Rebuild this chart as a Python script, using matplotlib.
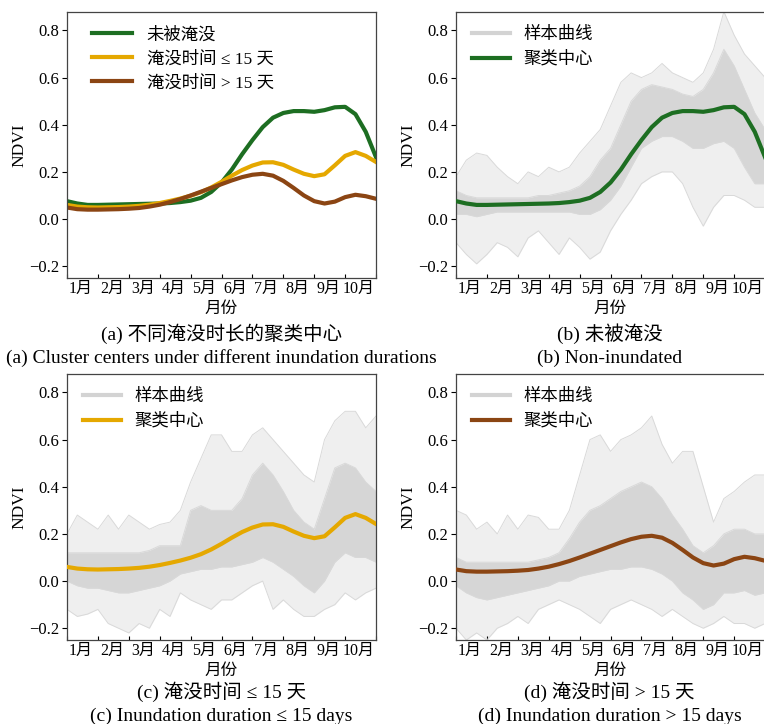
import numpy as np
import matplotlib.pyplot as plt
from matplotlib.lines import Line2D

FONT = ['Liberation Serif', 'Noto Sans CJK SC']
plt.rcParams['font.family'] = FONT
plt.rcParams['axes.unicode_minus'] = True

# time axis: months since 1 Jan, sampled every third of a month (dekads)
t = np.linspace(0, 10, 31)
months = ['1月', '2月', '3月', '4月', '5月', '6月', '7月', '8月', '9月', '10月']

# cluster centre NDVI curves
center_none = [0.076, 0.066, 0.060, 0.060, 0.061, 0.062, 0.063, 0.064, 0.065, 0.066,
               0.068, 0.072, 0.078, 0.090, 0.115, 0.155, 0.210, 0.275, 0.335, 0.390,
               0.430, 0.450, 0.458, 0.458, 0.455, 0.462, 0.474, 0.476, 0.445, 0.370, 0.262]
center_short = [0.060, 0.053, 0.050, 0.049, 0.050, 0.051, 0.053, 0.056, 0.061, 0.068,
                0.077, 0.087, 0.099, 0.114, 0.134, 0.158, 0.184, 0.208, 0.227, 0.240,
                0.241, 0.230, 0.210, 0.192, 0.182, 0.190, 0.228, 0.268, 0.284, 0.268, 0.242]
center_long = [0.049, 0.042, 0.040, 0.040, 0.041, 0.042, 0.044, 0.047, 0.053, 0.061,
               0.072, 0.085, 0.100, 0.116, 0.132, 0.148, 0.164, 0.178, 0.188, 0.192,
               0.184, 0.162, 0.132, 0.100, 0.076, 0.066, 0.074, 0.093, 0.103, 0.097, 0.086]

# spread of the sample curves: outer low, core low, core high, outer high
spread_none = [
    [-0.10, -0.15, -0.19, -0.15, -0.10, -0.12, -0.16, -0.08, -0.05, -0.10, -0.15, -0.08, -0.12, -0.17, -0.14, -0.05,
     0.02, 0.08, 0.15, 0.18, 0.20, 0.20, 0.15, 0.05, -0.03, 0.05, 0.10, 0.10, 0.08, 0.05, 0.05],
    [0.02, 0.02, 0.01, 0.02, 0.03, 0.03, 0.03, 0.03, 0.03, 0.03, 0.03, 0.03, 0.02, 0.02, 0.04, 0.08,
     0.14, 0.22, 0.30, 0.33, 0.35, 0.35, 0.33, 0.30, 0.30, 0.32, 0.33, 0.30, 0.22, 0.15, 0.15],
    [0.12, 0.10, 0.09, 0.09, 0.09, 0.09, 0.09, 0.09, 0.10, 0.10, 0.11, 0.12, 0.14, 0.18, 0.25, 0.30,
     0.40, 0.50, 0.55, 0.57, 0.56, 0.55, 0.53, 0.52, 0.55, 0.62, 0.72, 0.65, 0.55, 0.45, 0.38],
    [0.18, 0.25, 0.28, 0.27, 0.22, 0.18, 0.15, 0.20, 0.18, 0.22, 0.20, 0.22, 0.28, 0.33, 0.38, 0.48,
     0.58, 0.62, 0.60, 0.62, 0.66, 0.62, 0.60, 0.58, 0.62, 0.72, 0.88, 0.78, 0.70, 0.65, 0.60],
]
spread_short = [
    [-0.12, -0.15, -0.14, -0.12, -0.18, -0.20, -0.22, -0.18, -0.20, -0.12, -0.15, -0.05, -0.08, -0.10, -0.12, -0.08,
     -0.08, -0.05, -0.02, 0.00, -0.12, -0.08, -0.12, -0.15, -0.15, -0.12, -0.10, -0.05, -0.08, -0.05, -0.03],
    [0.00, -0.02, -0.03, -0.03, -0.04, -0.05, -0.05, -0.04, -0.03, -0.02, 0.00, 0.03, 0.04, 0.05, 0.05, 0.06,
     0.06, 0.07, 0.08, 0.10, 0.08, 0.05, 0.02, -0.02, -0.05, 0.00, 0.08, 0.12, 0.10, 0.10, 0.08],
    [0.12, 0.12, 0.12, 0.12, 0.12, 0.12, 0.12, 0.12, 0.13, 0.15, 0.15, 0.15, 0.30, 0.32, 0.30, 0.30,
     0.30, 0.35, 0.45, 0.50, 0.45, 0.38, 0.30, 0.25, 0.22, 0.35, 0.48, 0.50, 0.48, 0.42, 0.38],
    [0.20, 0.28, 0.25, 0.22, 0.28, 0.22, 0.28, 0.25, 0.22, 0.24, 0.25, 0.30, 0.42, 0.52, 0.62, 0.62,
     0.55, 0.55, 0.62, 0.65, 0.60, 0.55, 0.50, 0.45, 0.42, 0.60, 0.68, 0.72, 0.72, 0.65, 0.70],
]
spread_long = [
    [-0.20, -0.25, -0.22, -0.25, -0.20, -0.18, -0.15, -0.18, -0.12, -0.10, -0.08, -0.10, -0.12, -0.15, -0.18, -0.12,
     -0.10, -0.08, -0.10, -0.12, -0.15, -0.12, -0.15, -0.18, -0.20, -0.18, -0.15, -0.18, -0.18, -0.20, -0.18],
    [-0.02, -0.05, -0.07, -0.08, -0.07, -0.06, -0.05, -0.04, -0.03, -0.02, 0.00, 0.00, 0.02, 0.03, 0.04, 0.05,
     0.05, 0.06, 0.06, 0.05, 0.03, 0.00, -0.05, -0.08, -0.12, -0.10, -0.05, -0.05, -0.04, -0.06, -0.05],
    [0.10, 0.08, 0.08, 0.08, 0.08, 0.08, 0.08, 0.08, 0.09, 0.10, 0.12, 0.18, 0.25, 0.30, 0.32, 0.35,
     0.38, 0.40, 0.42, 0.40, 0.35, 0.28, 0.22, 0.15, 0.12, 0.15, 0.20, 0.22, 0.22, 0.20, 0.20],
    [0.30, 0.28, 0.22, 0.25, 0.20, 0.28, 0.22, 0.28, 0.27, 0.22, 0.22, 0.30, 0.45, 0.60, 0.62, 0.55,
     0.60, 0.62, 0.65, 0.70, 0.58, 0.50, 0.55, 0.55, 0.40, 0.25, 0.35, 0.38, 0.42, 0.45, 0.45],
]

c_none = '#1d6e22'
c_short = '#e5a800'
c_long = '#8b4513'
c_sample = '#d3d3d3'

label_none = '未被淹没'
label_short = '淹没时间 ≤ 15 天'
label_long = '淹没时间 > 15 天'

fig = plt.figure(figsize=(7.64, 7.24), dpi=100)
w, h = 0.4045, 0.368
ax_a = fig.add_axes([0.0877, 0.616, w, h])
ax_b = fig.add_axes([0.5969, 0.616, w, h])
ax_c = fig.add_axes([0.0877, 0.116, w, h])
ax_d = fig.add_axes([0.5969, 0.116, w, h])


def style_axes(ax):
    ax.set_xlim(0, 10)
    ax.set_ylim(-0.25, 0.88)
    ax.set_yticks([-0.2, 0.0, 0.2, 0.4, 0.6, 0.8])
    ax.set_yticklabels(['\u22120.2', '0.0', '0.2', '0.4', '0.6', '0.8'])
    ax.set_xticks(np.arange(10) + 0.45)
    ax.set_xticklabels(months)
    ax.set_xticks(np.arange(11), minor=True)
    ax.tick_params(axis='x', which='major', length=0, pad=2, labelsize=11.5)
    ax.tick_params(axis='x', which='minor', direction='in', length=3, width=0.8)
    ax.tick_params(axis='y', direction='out', length=3.5, pad=2, labelsize=12)
    for s in ax.spines.values():
        s.set_color('#444444')
        s.set_linewidth(0.9)
    ax.set_xlabel('月份', fontsize=12, labelpad=3)
    ax.set_ylabel('NDVI', fontsize=12.5, labelpad=1)


def draw_samples(ax, spread, center, color):
    lo_out, lo_in, hi_in, hi_out = spread
    ax.fill_between(t, lo_out, hi_out, color='#efefef', lw=0, zorder=1)
    ax.fill_between(t, lo_in, hi_in, color='#d6d6d6', lw=0, zorder=2)
    for edge in (lo_out, lo_in, hi_in, hi_out):
        ax.plot(t, edge, color='#d9d9d9', lw=0.7, zorder=2)
    ax.plot(t, center, color=color, lw=3, zorder=4)
    handles = [Line2D([], [], color=c_sample, lw=3),
               Line2D([], [], color=color, lw=3)]
    ax.legend(handles, ['样本曲线', '聚类中心'], loc='upper left', frameon=False,
              fontsize=12.5, handlelength=2.2, handletextpad=0.8, borderaxespad=0.5,
              labelspacing=0.45)


style_axes(ax_a)
ax_a.plot(t, center_none, color=c_none, lw=3, label=label_none)
ax_a.plot(t, center_short, color=c_short, lw=3, label=label_short)
ax_a.plot(t, center_long, color=c_long, lw=3, label=label_long)
ax_a.legend(loc='upper left', frameon=False, fontsize=12.5, handlelength=2.3,
            handletextpad=0.85, borderaxespad=0.5, labelspacing=0.45,
            bbox_to_anchor=(0.03, 1.0))

for ax, spread, center, color in [(ax_b, spread_none, center_none, c_none),
                                   (ax_c, spread_short, center_short, c_short),
                                   (ax_d, spread_long, center_long, c_long)]:
    style_axes(ax)
    draw_samples(ax, spread, center, color)

# panel captions, Chinese line above English line
captions = [
    (0.290, 0.539, '(a) 不同淹没时长的聚类中心', '(a) Cluster centers under different inundation durations'),
    (0.798, 0.539, '(b) 未被淹没', '(b) Non-inundated'),
    (0.290, 0.044, '(c) 淹没时间 ≤ 15 天', '(c) Inundation duration ≤ 15 days'),
    (0.798, 0.044, '(d) 淹没时间 > 15 天', '(d) Inundation duration > 15 days'),
]
for x, y, zh, en in captions:
    fig.text(x, y, zh, ha='center', va='center', fontsize=14)
    fig.text(x, y - 0.034, en, ha='center', va='center', fontsize=14)

fig.savefig('out.png', dpi=100)
